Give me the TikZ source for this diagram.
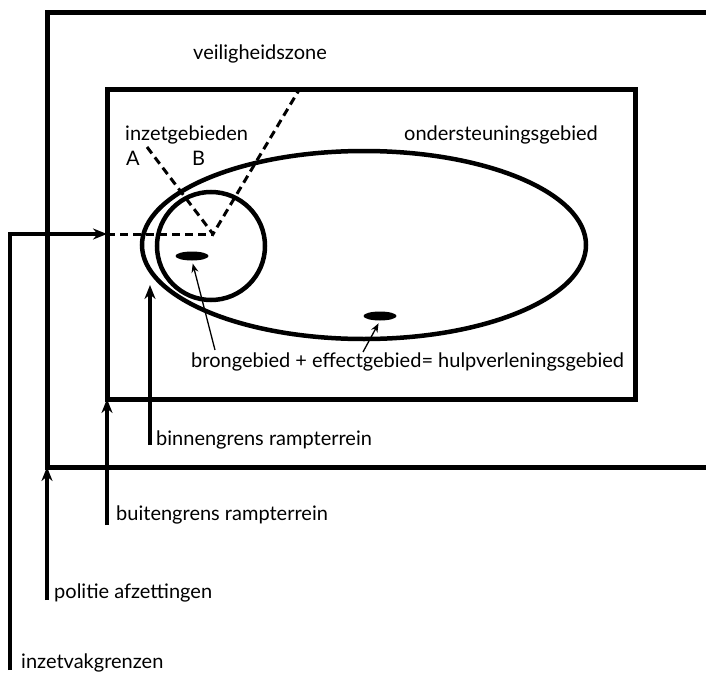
\documentclass[tikz,border=0pt]{standalone}
\usepackage{fontspec}
\setmainfont{Lato}
\usepackage{tikz}
\usetikzlibrary{arrows.meta,shapes.geometric}

\begin{document}
\begin{tikzpicture}[x=1pt,y=-1pt,
    tekst/.style={font=\fontsize{20}{24}\selectfont, inner sep=0pt, anchor=base west},
    rand/.style={line width=5pt},
    pijl/.style={line width=3.5pt, -{Stealth[length=14pt,width=11pt]}},
    dunpijl/.style={line width=1.3pt, -{Stealth[length=9pt,width=7pt]}},
    streep/.style={line width=3pt, dash pattern=on 8pt off 5pt},
    vlek/.style={ellipse, fill=black, minimum width=33pt, minimum height=9pt, inner sep=0pt}]
        \useasboundingbox (0,0) rectangle (706,674);
        \clip (0,0) rectangle (706,674);
        % rechthoeken
        \draw[rand] (47,13) rectangle (730,467);
        \draw[rand] (107,90) rectangle (635,399);
        \draw[line width=4.5pt] (364,245) ellipse [x radius=222, y radius=94];
        \draw[line width=4.5pt] (211,246) circle [radius=54];
        \node[vlek] (bron) at (192,256) {};
        \node[vlek] (effect) at (380,316) {};
        % teksten
        \node[tekst] (veilig) at (193,60) {veiligheidszone};
        \node[tekst] (inzet) at (125,140) {inzetgebieden};
        \node[tekst] (A) at (126,165) {A};
        \node[tekst] (B) at (192,165) {B};
        \node[tekst] (onderst) at (404,140) {ondersteuningsgebied};
        \node[tekst] (hulp) at (191,367) {brongebied + effectgebied= hulpverleningsgebied};
        \node[tekst] (binnen) at (156,445) {binnengrens rampterrein};
        \node[tekst] (buiten) at (116,520) {buitengrens rampterrein};
        \node[tekst] (politie) at (54,598) {politie afzettingen};
        \node[tekst] (inzetvak) at (21,668) {inzetvakgrenzen};
        % inzetgebieden
        \coordinate (ingang) at (107,234);
        \coordinate (punt) at (213,234);
        \coordinate (eindA) at (147,147);
        \coordinate (eindB) at (299,90);
        \draw[streep] (ingang) -- (punt);
        \draw[streep] (eindA) -- (punt) -- (eindB);
        % grenzen
        \coordinate (hoek) at (10,234);
        \draw[pijl] (inzetvak.base west) ++(-11,2) -- (hoek) -- (ingang);
        \draw[pijl] (politie.base west) ++(-7,2) -- (47,467);
        \draw[pijl] (buiten.base west) ++(-9,5) -- (107,399);
        \draw[pijl] (binnen.base west) ++(-6,0) -- (150,285);
        % pijltjes naar de bron
        \draw[dunpijl, shorten >=3pt] (215,350) -- (bron.south);
        \draw[dunpijl, shorten >=3pt] (363,352) -- (effect.south);
    \end{tikzpicture}
\end{document}
